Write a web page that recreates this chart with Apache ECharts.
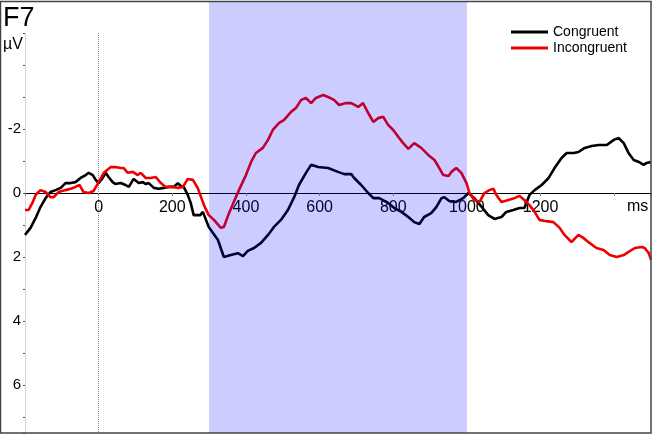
<!DOCTYPE html>
<html>
<head>
<meta charset="utf-8">
<script src="https://cdn.jsdelivr.net/npm/echarts@6/dist/echarts.min.js"></script>
<style>
html,body{margin:0;padding:0;background:#fff;}
#chart{width:657px;height:435px;}
</style>
</head>
<body>
<div id="chart"></div>
<script>
// Time points (ms) and amplitudes (µV)
const congruentT = [-200,-185,-171,-158,-144,-131,-117,-103,-90,-76,-63,-49,-35,-27,-16,-8,0,11,19,27,38,46,60,73,82,95,109,120,128,136,150,163,177,190,204,215,223,231,242,250,258,276,283,299,324,340,359,378,392,405,422,441,460,476,495,514,531,544,563,577,596,623,650,667,686,694,713,732,746,762,786,803,822,841,857,871,884,903,917,931,939,952,971,990,1004,1020,1039,1058,1075,1094,1107,1126,1143,1156,1170,1184,1203,1222,1238,1257,1271,1290,1303,1320,1339,1358,1380,1399,1412,1426,1439,1453,1467,1480,1488,1500];
const congruentV = [1.31,1.09,0.78,0.44,0.16,-0.03,-0.09,-0.16,-0.31,-0.31,-0.34,-0.47,-0.56,-0.63,-0.56,-0.41,-0.31,-0.47,-0.63,-0.5,-0.34,-0.28,-0.31,-0.25,-0.19,-0.44,-0.31,-0.34,-0.28,-0.31,-0.16,-0.13,-0.16,-0.19,-0.19,-0.31,-0.22,-0.19,0.06,0.31,0.69,0.69,0.59,1.06,1.47,2.0,1.94,1.88,1.97,1.81,1.72,1.56,1.31,1.06,0.84,0.53,0.13,-0.25,-0.63,-0.88,-0.81,-0.78,-0.66,-0.59,-0.59,-0.47,-0.25,0,0.16,0.16,0.31,0.47,0.59,0.75,0.91,0.97,0.75,0.63,0.44,0.16,0.13,0.25,0.28,0.16,0,0.16,0.42,0.69,0.81,0.75,0.59,0.53,0.47,0.47,0.06,-0.09,-0.25,-0.47,-0.78,-1.09,-1.25,-1.25,-1.28,-1.41,-1.47,-1.5,-1.5,-1.66,-1.72,-1.56,-1.25,-1.03,-0.97,-0.88,-0.94,-0.97];
const incongruentT = [-200,-190,-180,-171,-158,-144,-131,-122,-109,-90,-76,-63,-52,-41,-27,-14,0,14,33,46,60,68,79,93,106,114,128,141,155,169,182,201,215,229,242,256,269,286,299,313,332,340,354,367,381,400,414,427,446,460,473,490,503,522,536,550,563,577,590,610,623,639,653,672,686,705,718,732,746,759,773,786,800,814,827,841,857,876,895,912,925,936,950,958,971,985,999,1007,1020,1034,1048,1061,1072,1080,1094,1113,1129,1143,1156,1170,1184,1197,1216,1235,1252,1265,1284,1303,1317,1333,1352,1371,1388,1407,1426,1439,1456,1475,1483,1494,1500];
const incongruentV = [0.53,0.53,0.31,0.06,-0.09,-0.03,0.13,0.13,-0.03,-0.09,-0.13,-0.19,-0.25,-0.03,0,-0.06,-0.34,-0.63,-0.81,-0.81,-0.78,-0.78,-0.63,-0.66,-0.56,-0.63,-0.47,-0.47,-0.5,-0.31,-0.19,-0.19,-0.16,-0.19,-0.44,-0.41,-0.16,0.38,0.69,0.84,1.09,1.06,0.63,0.28,-0.09,-0.56,-0.97,-1.25,-1.41,-1.66,-1.97,-2.19,-2.28,-2.53,-2.66,-2.91,-2.97,-2.81,-2.97,-3.06,-3.0,-2.91,-2.75,-2.81,-2.81,-2.69,-2.81,-2.5,-2.22,-2.34,-2.38,-2.13,-1.97,-1.75,-1.56,-1.38,-1.56,-1.41,-1.19,-1.03,-0.78,-0.56,-0.53,-0.66,-0.78,-0.63,-0.31,0,0.22,0.28,0,-0.09,-0.13,0.06,0.28,0.22,0.16,0.09,0.22,0.38,0.59,0.84,0.88,0.91,1.09,1.31,1.53,1.31,1.41,1.56,1.72,1.78,1.94,2.0,1.94,1.84,1.72,1.69,1.72,1.88,2.09];
const seriesNames = ['Congruent','Incongruent'];
const shadeWindow = [300, 1000];
const xLabels = [0,200,400,600,800,1000,1200];
const yLabels = [-2,0,2,4,6];

const FONT = "'Liberation Sans', Arial, sans-serif";
const zip = (t, v) => t.map((x, i) => [x, v[i]]);

// grid geometry: y range -6..7.5 over 432 px => zero line 240 px above grid bottom
const Y_MIN = -6, Y_MAX = 7.5, GRID_TOP = 1, GRID_BOTTOM = 2;
const gridH = 435 - GRID_TOP - GRID_BOTTOM;
const zeroOffset = -gridH * (Y_MAX - 0) / (Y_MAX - Y_MIN);

const chart = echarts.init(document.getElementById('chart'), null, {renderer:'canvas'});
chart.setOption({
  animation: false,
  backgroundColor: '#fff',
  textStyle: {fontFamily: FONT},
  grid: {left: 25, right: 6, top: GRID_TOP, bottom: GRID_BOTTOM, containLabel: false, outerBoundsMode: 'none'},
  legend: {
    orient: 'vertical', left: 511, top: 24, padding: 0, itemGap: 0,
    itemWidth: 37, itemHeight: 3, icon: 'rect',
    textStyle: {fontFamily: FONT, fontSize: 14, color: '#000', lineHeight: 16},
    data: seriesNames
  },
  xAxis: {
    type: 'value', min: -200, max: 1500, interval: 200, z: 1.5,
    position: 'bottom', offset: zeroOffset,
    axisLine: {onZero: false, lineStyle: {color: '#000', width: 1}},
    axisTick: {show: true, length: 3, lineStyle: {color: '#888'}},
    splitLine: {show: false},
    axisLabel: {
      margin: 7, fontSize: 16, color: '#000', fontFamily: FONT,
      formatter: v => xLabels.includes(v) ? String(v) : ''
    }
  },
  yAxis: {
    type: 'value', inverse: true, min: Y_MIN, max: Y_MAX, interval: 1,
    axisLine: {show: false, onZero: false},
    axisTick: {show: true, length: 2, lineStyle: {color: '#555'}},
    splitLine: {show: false},
    axisLabel: {
      margin: 4, fontSize: 15, color: '#000', fontFamily: FONT,
      formatter: v => yLabels.includes(v) ? String(v) : ''
    }
  },
  series: [
    {
      name: seriesNames[0], type: 'line', data: zip(congruentT, congruentV),
      showSymbol: false, symbol: 'none', z: 3,
      lineStyle: {color: '#000', width: 2.6}, itemStyle: {color: '#000'},
      markArea: {
        silent: true, z: 10,
        itemStyle: {color: 'rgba(0,0,255,0.2)'},
        data: [[{xAxis: shadeWindow[0]}, {xAxis: shadeWindow[1]}]]
      },
      markLine: {
        silent: true, symbol: 'none', z: 1.2, label: {show: false},
        data: [
          [{coord: [0, -5], lineStyle: {type: 'dotted', color: '#888', width: 1}}, {coord: [0, 7.5]}],
          [{coord: [-200, -5], lineStyle: {type: 'solid', color: '#d4d4d4', width: 1}}, {coord: [-200, 7.5]}]
        ]
      }
    },
    {
      name: seriesNames[1], type: 'line', data: zip(incongruentT, incongruentV),
      showSymbol: false, symbol: 'none', z: 3,
      lineStyle: {color: '#ee0000', width: 2.6}, itemStyle: {color: '#ee0000'}
    }
  ],
  graphic: [
    {type: 'text', left: 3, top: 5, style: {text: 'F7', font: "27px " + FONT, fill: '#000'}},
    {type: 'text', left: 3, top: 37, style: {text: 'µV', font: "16px " + FONT, fill: '#000'}},
    {type: 'text', left: 627, top: 199, style: {text: 'ms', font: "16px " + FONT, fill: '#000'}},
    {type: 'rect', shape: {x: 0.5, y: 1.5, width: 650.5, height: 431.5}, z: 100,
     style: {fill: 'none', stroke: '#444', lineWidth: 1.5}}
  ]
});
</script>
</body>
</html>
